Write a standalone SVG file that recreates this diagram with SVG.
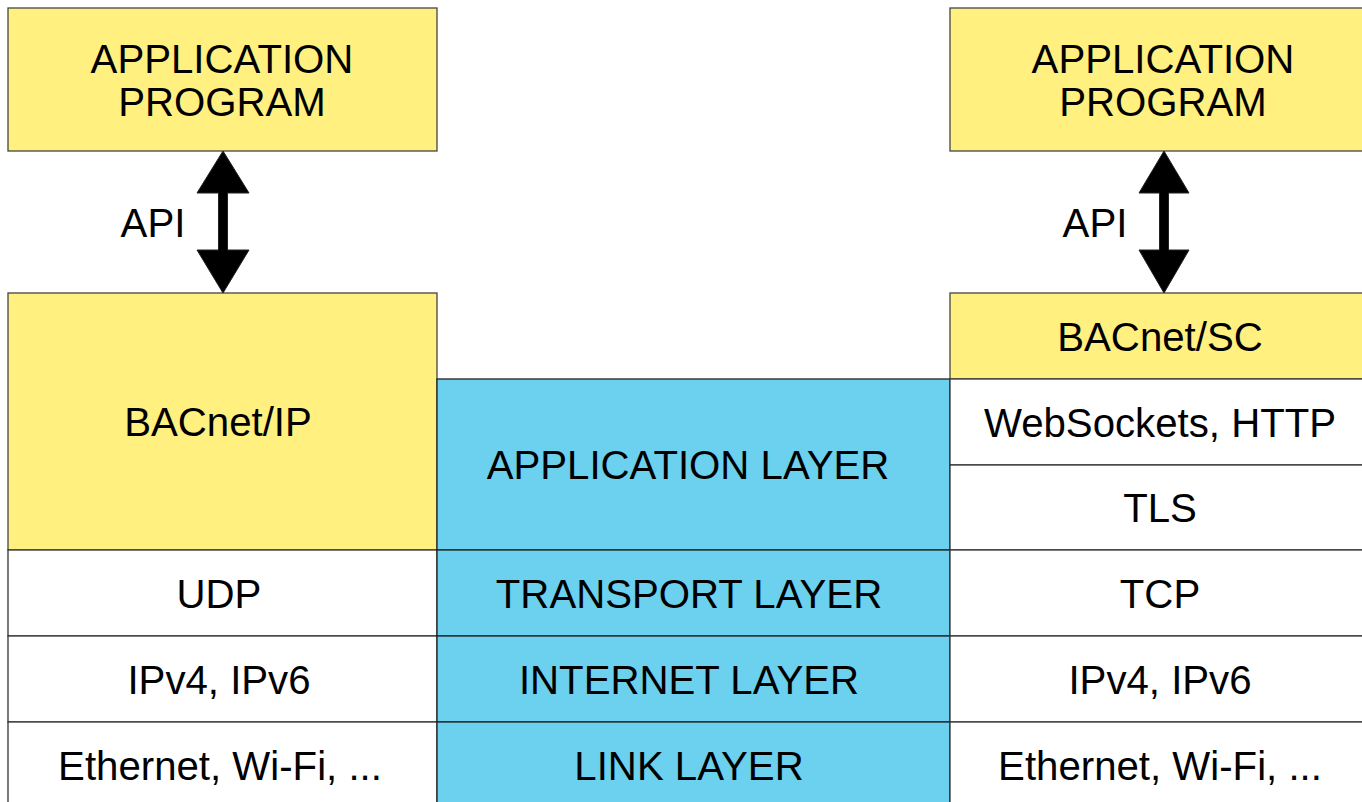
<svg xmlns="http://www.w3.org/2000/svg" width="1362" height="802" viewBox="0 0 1362 802">
<style>
.y{fill:#fff080;stroke:#444;stroke-width:1.3}
.w{fill:#ffffff;stroke:#333;stroke-width:1.3}
.b{fill:#6bd1ee;stroke:#222;stroke-width:1.3}
text{font-family:"Liberation Sans",Arial,sans-serif;font-size:40.2px;fill:#000;text-anchor:middle}
.arr{fill:#000;stroke:#222;stroke-width:1}
</style>
<rect width="1362" height="802" fill="#fff"/>
<g id="app-left"><rect class="y" x="8" y="8" width="429" height="143"/><text x="222" y="73">APPLICATION</text><text x="222" y="116">PROGRAM</text></g>
<g id="app-right"><rect class="y" x="950" y="8" width="430" height="143"/><text x="1163" y="73">APPLICATION</text><text x="1163" y="116">PROGRAM</text></g>
<g id="bacnet-ip"><rect class="y" x="8" y="293" width="429" height="257"/><text x="218" y="436">BACnet/IP</text></g>
<g id="udp"><rect class="w" x="8" y="550" width="429" height="86"/><text x="219" y="608">UDP</text></g>
<g id="ipv-left"><rect class="w" x="8" y="636" width="429" height="86"/><text x="219" y="694">IPv4, IPv6</text></g>
<g id="eth-left"><rect class="w" x="8" y="722" width="429" height="90"/><text x="220" y="780">Ethernet, Wi-Fi, ...</text></g>
<g id="app-layer"><rect class="b" x="437" y="379" width="513" height="171"/><text x="688" y="479">APPLICATION LAYER</text></g>
<g id="transport-layer"><rect class="b" x="437" y="550" width="513" height="86"/><text x="689" y="608">TRANSPORT LAYER</text></g>
<g id="internet-layer"><rect class="b" x="437" y="636" width="513" height="86"/><text x="689" y="694">INTERNET LAYER</text></g>
<g id="link-layer"><rect class="b" x="437" y="722" width="513" height="90"/><text x="689" y="780">LINK LAYER</text></g>
<g id="bacnet-sc"><rect class="y" x="950" y="293" width="430" height="86"/><text x="1160" y="351">BACnet/SC</text></g>
<g id="websockets"><rect class="w" x="950" y="379" width="430" height="86"/><text x="1160" y="437">WebSockets, HTTP</text></g>
<g id="tls"><rect class="w" x="950" y="465" width="430" height="85"/><text x="1160" y="522">TLS</text></g>
<g id="tcp"><rect class="w" x="950" y="550" width="430" height="86"/><text x="1160" y="608">TCP</text></g>
<g id="ipv-right"><rect class="w" x="950" y="636" width="430" height="86"/><text x="1160" y="694">IPv4, IPv6</text></g>
<g id="eth-right"><rect class="w" x="950" y="722" width="430" height="90"/><text x="1160" y="780">Ethernet, Wi-Fi, ...</text></g>
<g id="connectors">
<polygon class="arr" points="223,151 197,193 218.5,193 218.5,250 197,250 223,293 249,250 227.5,250 227.5,193 249,193"/>
<polygon class="arr" points="1164,151 1139,193 1159.5,193 1159.5,250 1139,250 1164,293 1189,250 1168.5,250 1168.5,193 1189,193"/>
<text x="153" y="237">API</text>
<text x="1095" y="237">API</text>
</g>
</svg>
